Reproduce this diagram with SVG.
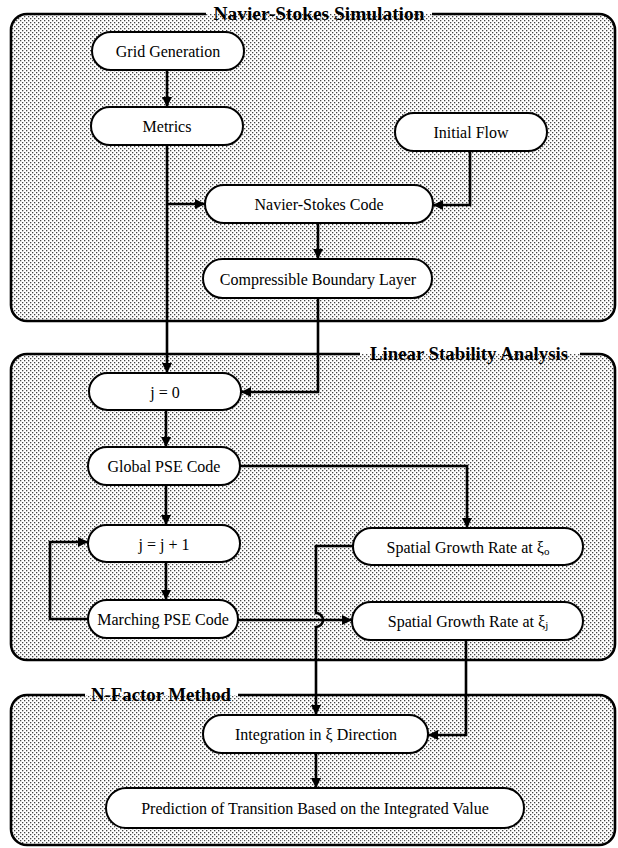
<svg xmlns="http://www.w3.org/2000/svg" width="618" height="848" viewBox="0 0 618 848">
<defs>
<pattern id="dots" patternUnits="userSpaceOnUse" width="4" height="4">
<rect width="4" height="4" fill="#ffffff"/>
<rect x="0" y="0" width="1.3" height="1.3" fill="#444"/>
<rect x="2" y="2" width="1.3" height="1.3" fill="#444"/>
</pattern>
<marker id="ah" viewBox="0 0 10 10" refX="10" refY="5" markerWidth="12" markerHeight="10" markerUnits="userSpaceOnUse" orient="auto">
<path d="M0,0 L10,5 L0,10 z" fill="#000"/>
</marker>
<style>
.pfill{fill:url(#dots);stroke:none}
.pedge{fill:none;stroke:#000;stroke-width:2.6}
.ptitle{font-family:"Liberation Serif","Times New Roman",serif;font-weight:bold;font-size:18px;fill:#000}
.node rect{fill:#fff;stroke:#000;stroke-width:2}
.node text{font-family:"Liberation Serif","Times New Roman",serif;font-size:16px;fill:#000;text-anchor:middle;dominant-baseline:central}
.conn path{fill:none;stroke:#000;stroke-width:2.6}
.arr{marker-end:url(#ah)}
</style>
</defs>
<rect width="618" height="848" fill="#fff"/>

<g id="panel-ns">
<rect class="pfill" x="11" y="14" width="604" height="307" rx="16"/>
<path class="pedge" d="M432,14 H599 A16,16 0 0 1 615,30 V305 A16,16 0 0 1 599,321 H27 A16,16 0 0 1 11,305 V30 A16,16 0 0 1 27,14 H206"/>
<text class="ptitle" x="319" y="20" text-anchor="middle" textLength="211" lengthAdjust="spacingAndGlyphs">Navier-Stokes Simulation</text>
</g>
<g id="panel-lsa">
<rect class="pfill" x="11" y="354" width="604" height="306" rx="16"/>
<path class="pedge" d="M580,354 H599 A16,16 0 0 1 615,370 V644 A16,16 0 0 1 599,660 H27 A16,16 0 0 1 11,644 V370 A16,16 0 0 1 27,354 H360"/>
<text class="ptitle" x="469" y="360" text-anchor="middle" textLength="198" lengthAdjust="spacingAndGlyphs">Linear Stability Analysis</text>
</g>
<g id="panel-nf">
<rect class="pfill" x="11" y="695" width="604" height="150" rx="16"/>
<path class="pedge" d="M238,695 H599 A16,16 0 0 1 615,711 V829 A16,16 0 0 1 599,845 H27 A16,16 0 0 1 11,829 V711 A16,16 0 0 1 27,695 H85"/>
<text class="ptitle" x="161" y="701" text-anchor="middle" textLength="140" lengthAdjust="spacingAndGlyphs">N-Factor Method</text>
</g>

<g id="connectors" class="conn">
<path class="arr" d="M167,70 V107"/>
<path class="arr" d="M167,145 V373"/>
<path class="arr" d="M167,204 H205"/>
<path class="arr" d="M470,151 V205 H433"/>
<path class="arr" d="M318,222 V259"/>
<path class="arr" d="M318,298 V392 H241"/>
<path class="arr" d="M166,410 V447"/>
<path class="arr" d="M240,466 H467 V528"/>
<path class="arr" d="M166,485 V525"/>
<path class="arr" d="M166,562 V600"/>
<path class="arr" d="M88,619 H50 V542 H88"/>
<path class="arr" d="M238,620 H352"/>
<path class="arr" d="M353,546 H316 V613 A7,7 0 0 1 316,627 V715"/>
<path class="arr" d="M466,640 V735 H428"/>
<path class="arr" d="M316,753 V788"/>
</g>

<g id="n-grid" class="node"><rect x="92" y="32" width="152" height="38" rx="19"/><text x="168" y="51">Grid Generation</text></g>
<g id="n-metrics" class="node"><rect x="91" y="107" width="152" height="38" rx="19"/><text x="167" y="126">Metrics</text></g>
<g id="n-initflow" class="node"><rect x="395" y="113" width="152" height="38" rx="19"/><text x="471" y="132">Initial Flow</text></g>
<g id="n-nscode" class="node"><rect x="205" y="185" width="228" height="38" rx="19"/><text x="319" y="204">Navier-Stokes Code</text></g>
<g id="n-cbl" class="node"><rect x="203" y="259" width="229" height="39" rx="19.5"/><text x="318" y="279">Compressible Boundary Layer</text></g>
<g id="n-j0" class="node"><rect x="89" y="373" width="152" height="37" rx="18.5"/><text x="165" y="392">j = 0</text></g>
<g id="n-gpse" class="node"><rect x="88" y="447" width="152" height="38" rx="19"/><text x="164" y="466">Global PSE Code</text></g>
<g id="n-jj1" class="node"><rect x="88" y="525" width="152" height="37" rx="18.5"/><text x="164" y="544">j = j + 1</text></g>
<g id="n-march" class="node"><rect x="88" y="600" width="150" height="38" rx="19"/><text x="163" y="619">Marching PSE Code</text></g>
<g id="n-xi0" class="node"><rect x="353" y="528" width="230" height="37" rx="18.5"/><text x="468" y="547">Spatial Growth Rate at ξ<tspan font-size="11" dy="4">o</tspan></text></g>
<g id="n-xij" class="node"><rect x="352" y="602" width="231" height="38" rx="19"/><text x="468" y="621">Spatial Growth Rate at ξ<tspan font-size="11" dy="4">j</tspan></text></g>
<g id="n-integ" class="node"><rect x="203" y="715" width="225" height="38" rx="19"/><text x="316" y="734">Integration in ξ Direction</text></g>
<g id="n-pred" class="node"><rect x="106" y="788" width="418" height="40" rx="20"/><text x="315" y="808">Prediction of Transition Based on the Integrated Value</text></g>
</svg>
